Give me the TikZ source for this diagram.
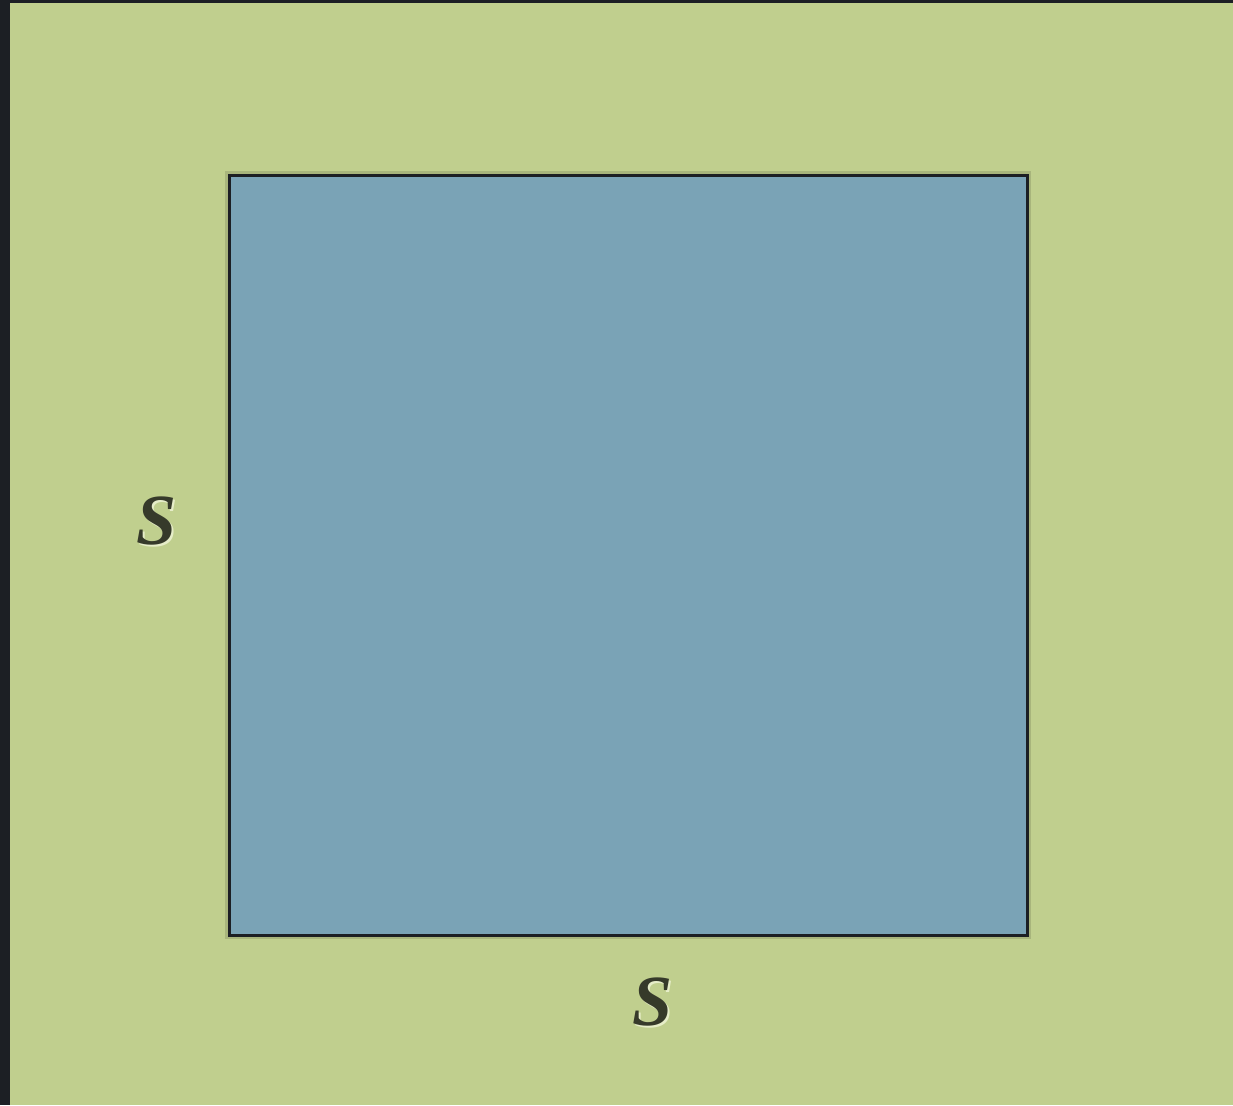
\documentclass[tikz,border=0pt]{standalone}
\usepackage{fontspec}
\usetikzlibrary{calc}
\setmainfont{Liberation Serif}
\definecolor{frame}{HTML}{1C1F24}
\definecolor{field}{HTML}{C0CF8E}
\definecolor{plate}{HTML}{7AA3B6}
\definecolor{ink}{HTML}{363A2A}
\definecolor{glow}{HTML}{E6EDC8}
\tikzset{
	side/.style={font=\fontsize{36}{36}\selectfont\bfseries\itshape, text=ink, inner sep=0pt},
	sideglow/.style={font=\fontsize{36}{36}\selectfont\bfseries\itshape, text=glow, inner sep=0pt}
}
\begin{document}
\begin{tikzpicture}[x=0.5pt, y=-0.5pt]
	\useasboundingbox (0,0) rectangle (1233,1105);
	\fill [frame] (0,0) rectangle (1233,1105);
	\fill [field] (10,3) rectangle (1233,1105);

	\coordinate (A) at (229,175);
	\coordinate (B) at (1027,935);
	\fill [black, opacity=0.12] ($(A)+(-4,-4)$) rectangle ($(B)+(4,4)$);
	\draw [frame, line width=1.5pt, fill=plate] (A) rectangle (B);

	\node [sideglow] (sleftglow) at (159,523) {S};
	\node [side] (sleft) at (157,521) {S};
	\node [sideglow] (sbottomglow) at (655,1004) {S};
	\node [side] (sbottom) at (653,1002) {S};
\end{tikzpicture}
\end{document}
